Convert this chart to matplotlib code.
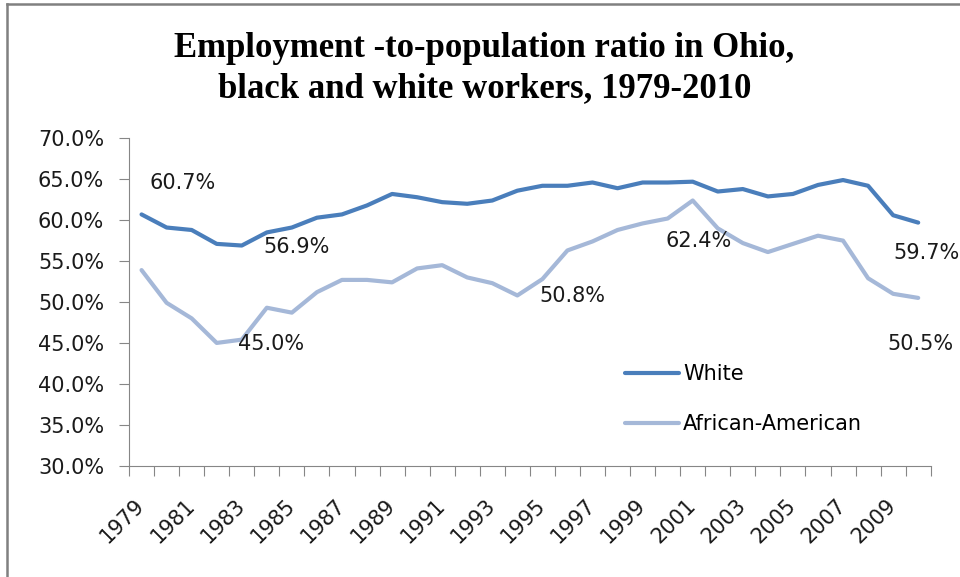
import numpy as np
import matplotlib.pyplot as plt
from matplotlib.lines import Line2D

years = list(range(1979, 2011))

white = [60.7, 59.1, 58.8, 57.1, 56.9, 58.5, 59.1, 60.3, 60.7, 61.8,
         63.2, 62.8, 62.2, 62.0, 62.4, 63.6, 64.2, 64.2, 64.6, 63.9,
         64.6, 64.6, 64.7, 63.5, 63.8, 62.9, 63.2, 64.3, 64.9, 64.2,
         60.6, 59.7]

african_american = [53.9, 49.9, 48.0, 45.0, 45.4, 49.3, 48.7, 51.2, 52.7, 52.7,
                    52.4, 54.1, 54.5, 53.0, 52.3, 50.8, 52.8, 56.3, 57.4, 58.8,
                    59.6, 60.2, 62.4, 59.0, 57.2, 56.1, 57.1, 58.1, 57.5, 52.9,
                    51.0, 50.5]

# (series, year) pairs that get a value label, with pixel offsets
labelled = [
    ("white", 1979, (41, 31)),
    ("white", 1983, (55, -1)),
    ("white", 2010, (8, -30)),
    ("aa", 1982, (54, -1)),
    ("aa", 1994, (55, -1)),
    ("aa", 2001, (6, -40)),
    ("aa", 2010, (2, -46)),
]

WHITE_COLOR = "#4a7ebb"
AA_COLOR = "#a5b8d8"
SPINE_COLOR = "#868686"
TEXT_COLOR = "#1a1a1a"
FS = 15

plt.rcParams["font.family"] = ["DejaVu Sans"]

fig = plt.figure(figsize=(9.6, 5.77), dpi=100)
ax = fig.add_axes([0.1344, 0.1929, 0.9695 - 0.1344, 0.7603 - 0.1929])

x = np.arange(len(years))
ax.plot(x, white, color=WHITE_COLOR, linewidth=3, solid_capstyle="round",
        solid_joinstyle="round", label="White", zorder=3)
ax.plot(x, african_american, color=AA_COLOR, linewidth=3, solid_capstyle="round",
        solid_joinstyle="round", label="African-American", zorder=2)

series = {"white": white, "aa": african_american}
for key, year, (dx, dy) in labelled:
    i = years.index(year)
    v = series[key][i]
    ax.annotate(f"{v:.1f}%", xy=(i, v), xytext=(dx, dy),
                textcoords="offset pixels", ha="center", va="center",
                fontsize=FS, color=TEXT_COLOR)

ax.set_xlim(-0.5, len(years) - 0.5)
ax.set_ylim(30, 70)

ax.set_yticks(np.arange(30, 71, 5))
ax.set_yticklabels([f"{v:.1f}%" for v in np.arange(30, 71, 5)])

# category boundaries carry the tick marks, labels sit on every other year
ax.set_xticks(np.arange(-0.5, len(years), 1.0))
ax.set_xticklabels([])
ax.set_xticks(x[::2], minor=True)
ax.set_xticklabels([str(y) for y in years[::2]], minor=True, rotation=45,
                   ha="right", va="center", rotation_mode="anchor")

ax.tick_params(axis="both", which="major", direction="out", length=7,
               width=0.8, color=SPINE_COLOR, labelsize=FS, labelcolor=TEXT_COLOR)
ax.tick_params(axis="y", pad=11)
ax.tick_params(axis="x", which="minor", length=0, pad=26, labelsize=FS,
               labelcolor=TEXT_COLOR)

for side in ("top", "right"):
    ax.spines[side].set_visible(False)
for side in ("left", "bottom"):
    ax.spines[side].set_color(SPINE_COLOR)
    ax.spines[side].set_linewidth(0.8)

ax.legend(loc="center left", bbox_to_anchor=(0.651, 0.3085),
          bbox_transform=fig.transFigure, frameon=False, fontsize=FS,
          handlelength=2.6, handletextpad=0.2, labelspacing=1.45,
          borderpad=0, borderaxespad=0)

fig.text(0.5047, 1 - 57 / 577, "Employment -to-population ratio in Ohio,",
         ha="center", va="baseline", fontsize=25, fontweight="bold",
         family="Liberation Serif")
fig.text(0.5047, 1 - 97 / 577, "black and white workers, 1979-2010",
         ha="center", va="baseline", fontsize=25, fontweight="bold",
         family="Liberation Serif")

# chart frame, top and left edges
fig.add_artist(Line2D([7 / 960, 7 / 960], [0, 1 - 4 / 577], color="#808080",
                      linewidth=1.8, transform=fig.transFigure))
fig.add_artist(Line2D([7 / 960, 1], [1 - 4 / 577, 1 - 4 / 577], color="#808080",
                      linewidth=1.8, transform=fig.transFigure))

fig.savefig("out.png", dpi=100)
